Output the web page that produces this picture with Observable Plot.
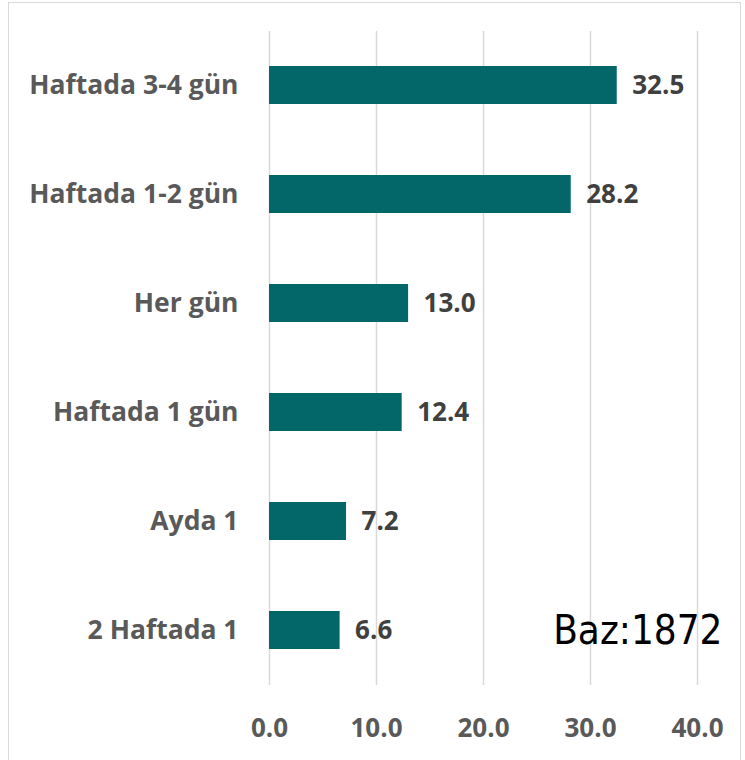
<!DOCTYPE html>
<html>
<head>
<meta charset="utf-8">
<script src="https://cdn.jsdelivr.net/npm/d3@7"></script>
<script src="https://cdn.jsdelivr.net/npm/@observablehq/plot@0.6"></script>
<style>
  html, body { margin: 0; padding: 0; background: #fff; }
  #wrap { position: relative; width: 745px; height: 760px; overflow: hidden; }
  #border { position: absolute; left: 8px; top: 2px; width: 733px; height: 800px; border: 1.5px solid #d9d9d9; box-sizing: border-box; }
  #chart { position: absolute; left: 0; top: 0; }
</style>
</head>
<body>
<div id="wrap"><div id="border"></div><div id="chart"></div></div>
<script>
const categories = ["Haftada 3-4 gün", "Haftada 1-2 gün", "Her gün", "Haftada 1 gün", "Ayda 1", "2 Haftada 1"];
const values = [32.5, 28.2, 13.0, 12.4, 7.2, 6.6];
const xTicks = [0, 10, 20, 30, 40];
const baseNote = ["Baz:1872"];

const data = categories.map((c, i) => ({cat: c, value: values[i]}));
const labelFont = "'Open Sans', sans-serif";

const chart = Plot.plot({
  width: 745,
  height: 760,
  marginLeft: 269,
  marginRight: 48,
  marginTop: 31,
  marginBottom: 75,
  style: {background: "transparent", overflow: "visible"},
  x: {domain: [0, 40], ticks: xTicks, tickFormat: d => d.toFixed(1)},
  y: {domain: categories, paddingInner: 0.65, paddingOuter: 0.325},
  marks: [
    Plot.ruleX(xTicks, {x: d => d, stroke: "#d9d9d9", strokeWidth: 1.5}),
    Plot.barX(data, {x: "value", y: "cat", fill: "#03676a"}),
    Plot.text(data, {x: "value", y: "cat", text: d => d.value.toFixed(1), textAnchor: "start", dx: 15,
      fontSize: 26, fontWeight: 700, fontFamily: labelFont, fill: "#404040"}),
    Plot.axisY({tickSize: 0, tickPadding: 31, fontSize: 26.5, fontWeight: 700, fontFamily: labelFont, fill: "#595959", label: null}),
    Plot.axisX(xTicks, {tickSize: 0, tickPadding: 33, fontSize: 26, fontWeight: 700, fontFamily: labelFont, fill: "#595959", label: null, tickFormat: d => d.toFixed(1)}),
    Plot.text(baseNote, {text: d => d, frameAnchor: "bottom-right", dx: 25, dy: -42, textAnchor: "end",
      fontSize: 40, fontFamily: "'DejaVu Sans Condensed', 'DejaVu Sans', sans-serif", fontStretch: "condensed", fill: "#000"})
  ]
});
document.getElementById("chart").appendChild(chart);
</script>
</body>
</html>
